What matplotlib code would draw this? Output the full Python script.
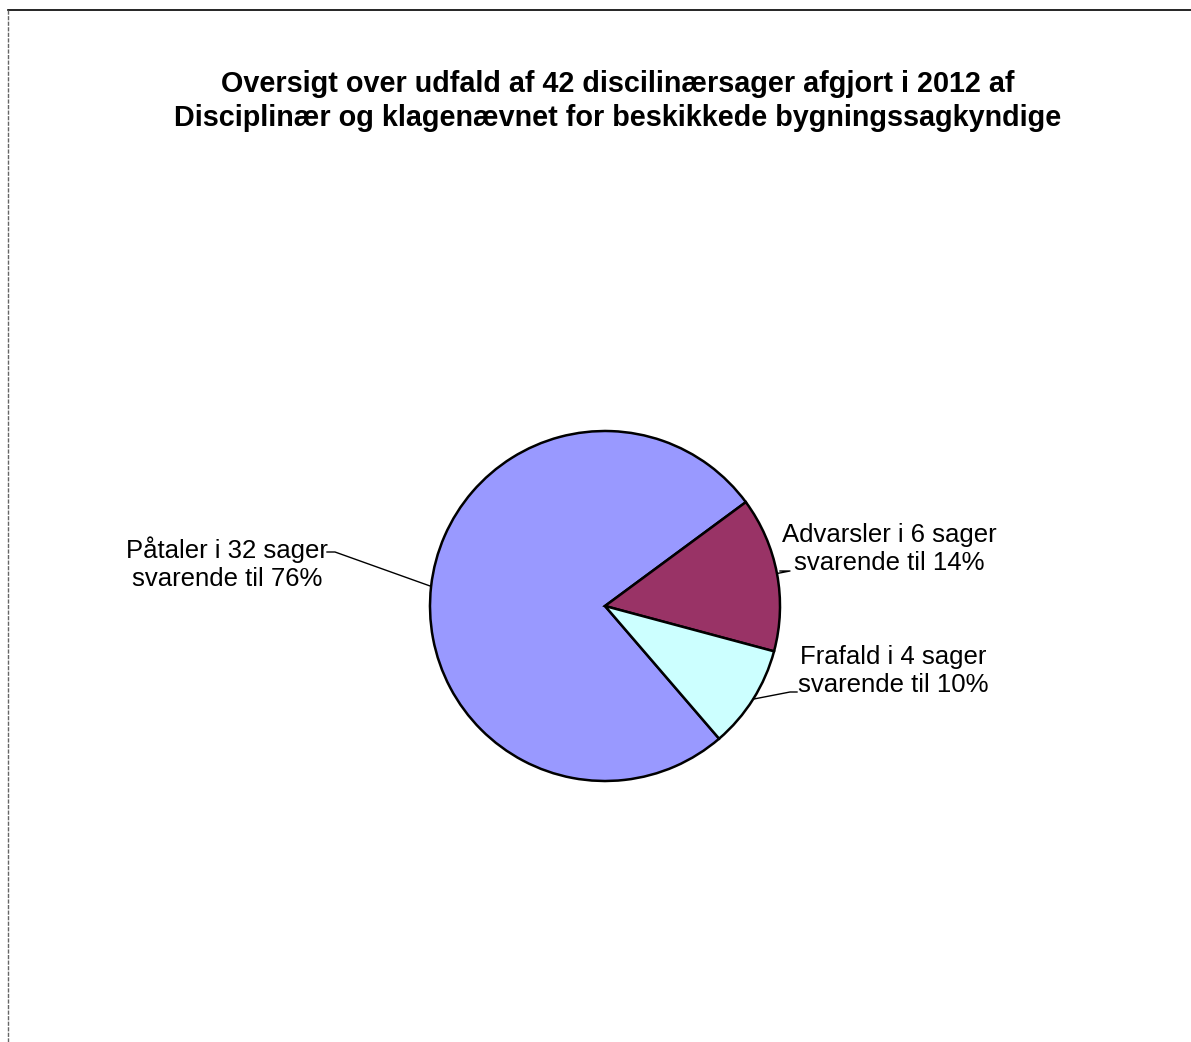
import numpy as np
import matplotlib
matplotlib.use("Agg")
import matplotlib.pyplot as plt
from matplotlib.lines import Line2D

categories = ["Påtaler", "Advarsler", "Frafald"]
counts = [32, 6, 4]
percent_labels = ["76%", "14%", "10%"]
label_texts = ["Påtaler i 32 sager\nsvarende til 76%",
               "Advarsler i 6 sager\nsvarende til 14%",
               "Frafald i 4 sager\nsvarende til 10%"]
colors = ["#9999FF", "#993366", "#CCFFFF"]
title = ("Oversigt over udfald af 42 discilinærsager afgjort i 2012 af\n"
         "Disciplinær og klagenævnet for beskikkede bygningssagkyndige")

W, H = 1191, 1042
fig = plt.figure(figsize=(W / 100, H / 100), dpi=100)
plt.rcParams['font.family'] = ['Liberation Sans', 'DejaVu Sans']

cx, cy, r = 605, 606, 175
ax = fig.add_axes([(cx - r) / W, (H - cy - r) / H, 2 * r / W, 2 * r / H])
start = -49.3
wedges, _ = ax.pie(counts, colors=colors, startangle=start, counterclock=False,
                   radius=1.0, wedgeprops=dict(edgecolor="black", linewidth=1.8))
ax.set_xlim(-1.0, 1.0)
ax.set_ylim(-1.0, 1.0)
ax.axis("off")

# label positions (figure pixel coords, text centre) and leader end points
text_pos = [(227, 564), (889, 549), (893, 671)]
leader_end = [(335, 552), (790, 571), (790, 692)]
knee = [(327, 552), (780, 571), (797, 692)]

total = sum(counts)
ang = start
for i, c in enumerate(counts):
    span = 360 * c / total
    mid = np.deg2rad(ang - span / 2)
    ang -= span
    px = cx + r * np.cos(mid)
    py = cy - r * np.sin(mid)
    fig.text(text_pos[i][0] / W, 1 - text_pos[i][1] / H, label_texts[i],
             ha="center", va="center", fontsize=18.5, linespacing=1.2,
             color="black")
    ex, ey = leader_end[i]
    kx, ky = knee[i]
    xs = [px / W, ex / W, kx / W]
    ys = [1 - py / H, 1 - ey / H, 1 - ky / H]
    fig.add_artist(Line2D(xs, ys, color="black", linewidth=1.0))

fig.text(618 / W, 1 - 101 / H, title, ha="center", va="center",
         fontsize=20.7, fontweight="bold", linespacing=1.25)

# chart frame lines
fig.add_artist(Line2D([8 / W, 1.0], [1 - 10 / H, 1 - 10 / H], color="black", linewidth=1.2))
fig.add_artist(Line2D([8 / W, 8 / W], [0, 1 - 10 / H], color="#666666",
                      linewidth=1.0, linestyle=(0, (3, 1))))

fig.savefig("out.png", dpi=100, facecolor="white")
